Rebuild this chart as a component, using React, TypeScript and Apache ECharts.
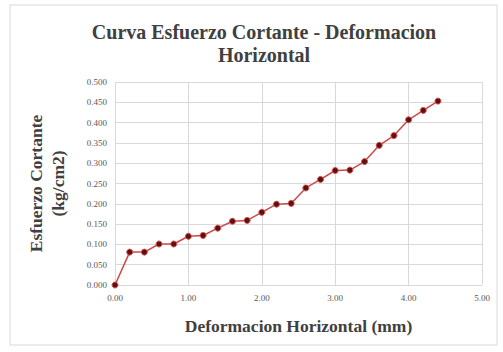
import React, { useEffect, useRef } from "react";
import * as echarts from "echarts";

const deformation = [0, 0.2, 0.4, 0.6, 0.8, 1.0, 1.2, 1.4, 1.6, 1.8, 2.0, 2.2, 2.4, 2.6, 2.8, 3.0, 3.2, 3.4, 3.6, 3.8, 4.0, 4.2, 4.4];
const stress = [0.0, 0.081, 0.081, 0.101, 0.101, 0.12, 0.122, 0.14, 0.157, 0.159, 0.179, 0.199, 0.201, 0.239, 0.26, 0.282, 0.283, 0.304, 0.344, 0.368, 0.407, 0.43, 0.453];

const titleText = "Curva Esfuerzo Cortante - Deformacion\nHorizontal";
const xName = "Deformacion Horizontal (mm)";
const yName = "Esfuerzo Cortante\n(kg/cm2)";

const serif = "'Liberation Serif', 'DejaVu Serif', serif";

export default function App() {
  const ref = useRef<HTMLDivElement>(null);
  useEffect(() => {
    if (!ref.current) return;
    const chart = echarts.init(ref.current, null, { renderer: "svg" });
    chart.setOption({
      animation: false,
      backgroundColor: "#ffffff",
      graphic: [
        {
          type: "rect",
          shape: { x: 10, y: 5, width: 487, height: 340 },
          style: { fill: "none", stroke: "#d9d9d9", lineWidth: 1 },
          silent: true,
        },
      ],
      title: {
        text: titleText,
        left: 259,
        top: 15,
        textAlign: "center",
        textStyle: {
          fontFamily: serif,
          fontWeight: "bold",
          fontSize: 20,
          color: "#404040",
          lineHeight: 23,
        },
      },
      grid: { left: 115, right: 21, top: 82, bottom: 67, containLabel: false },
      xAxis: {
        type: "value",
        min: 0,
        max: 5,
        interval: 1,
        name: xName,
        nameLocation: "middle",
        nameGap: 32,
        nameTextStyle: { fontFamily: serif, fontWeight: "bold", fontSize: 17.5, color: "#404040" },
        axisLabel: {
          fontFamily: serif,
          fontSize: 9,
          color: "#595959",
          formatter: (v: number) => v.toFixed(2),
        },
        axisLine: { show: false },
        axisTick: { show: false },
        splitLine: { show: true, lineStyle: { color: "#d9d9d9", width: 1 } },
      },
      yAxis: {
        type: "value",
        min: 0,
        max: 0.5,
        interval: 0.05,
        name: yName,
        nameLocation: "middle",
        nameGap: 46,
        nameTextStyle: { fontFamily: serif, fontWeight: "bold", fontSize: 17.5, color: "#404040", lineHeight: 22 },
        axisLabel: {
          fontFamily: serif,
          fontSize: 9,
          color: "#595959",
          formatter: (v: number) => v.toFixed(3),
        },
        axisLine: { show: false },
        axisTick: { show: false },
        splitLine: { show: true, lineStyle: { color: "#d9d9d9", width: 1 } },
      },
      series: [
        {
          type: "line",
          data: deformation.map((x, i) => [x, stress[i]]),
          symbol: "circle",
          symbolSize: 6,
          lineStyle: { color: "#d04848", width: 1.5 },
          itemStyle: { color: "#5a1212", borderColor: "#e04848", borderWidth: 1 },
        },
      ],
    });
    return () => chart.dispose();
  }, []);
  return <div ref={ref} style={{ position: "absolute", left: 0, top: 0, width: 503, height: 352 }} />;
}
